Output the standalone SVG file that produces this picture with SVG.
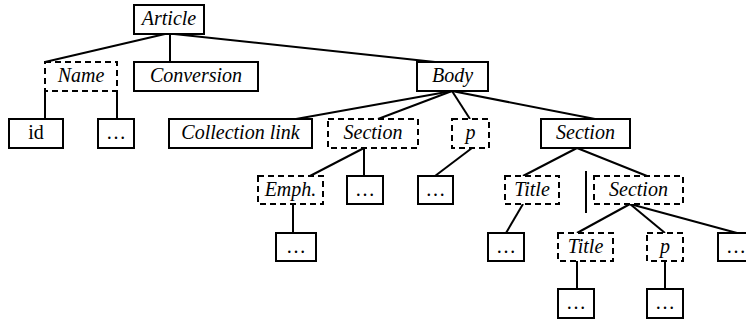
<svg xmlns="http://www.w3.org/2000/svg" width="746" height="321" viewBox="0 0 746 321">
<style>
.b{fill:#fff;stroke:#000;stroke-width:2}
.d{fill:#fff;stroke:#000;stroke-width:2;stroke-dasharray:6 4}
text{font-family:'Liberation Serif','Times New Roman',serif;font-size:20px;text-anchor:middle;fill:#000}
.t{font-style:italic}
#connectors line{stroke:#000;stroke-width:2}
</style>
<rect width="746" height="321" fill="#fff"/>
<g id="connectors">
<line x1="165" y1="34" x2="45" y2="62"/>
<line x1="170" y1="34" x2="170" y2="62"/>
<line x1="174" y1="34" x2="435" y2="62"/>
<line x1="45" y1="91" x2="45" y2="119"/>
<line x1="117" y1="91" x2="117" y2="119"/>
<line x1="452" y1="91" x2="296" y2="119"/>
<line x1="452" y1="91" x2="378" y2="119"/>
<line x1="452" y1="91" x2="470" y2="119"/>
<line x1="452" y1="91" x2="595" y2="119"/>
<line x1="364" y1="148" x2="310" y2="176"/>
<line x1="364" y1="148" x2="364" y2="176"/>
<line x1="472" y1="148" x2="435" y2="176"/>
<line x1="293" y1="204" x2="293" y2="233"/>
<line x1="577" y1="148" x2="523" y2="176"/>
<line x1="577" y1="148" x2="647" y2="176"/>
<line x1="586" y1="171" x2="586" y2="213"/>
<line x1="523" y1="204" x2="506" y2="233"/>
<line x1="630" y1="204" x2="577" y2="233"/>
<line x1="630" y1="204" x2="665" y2="233"/>
<line x1="630" y1="204" x2="737" y2="233"/>
<line x1="577" y1="261" x2="577" y2="289"/>
<line x1="665" y1="261" x2="665" y2="289"/>
</g>
<g id="article"><rect class="b" x="134" y="5" width="70" height="29"/><text class="t" x="169" y="25">Article</text></g>
<g id="name"><rect class="d" x="45" y="62" width="72" height="29"/><text class="t" x="81" y="82">Name</text></g>
<g id="conversion"><rect class="b" x="134" y="62" width="124" height="29"/><text class="t" x="196" y="82">Conversion</text></g>
<g id="body"><rect class="b" x="417" y="62" width="71" height="29"/><text class="t" x="452.5" y="82">Body</text></g>
<g id="id"><rect class="b" x="9" y="119" width="54" height="29"/><text x="36" y="139">id</text></g>
<g id="name-more"><rect class="b" x="98" y="119" width="36" height="29"/><text x="116" y="139">…</text></g>
<g id="collection-link"><rect class="b" x="169" y="119" width="143" height="29"/><text class="t" x="240.5" y="139">Collection link</text></g>
<g id="section1"><rect class="d" x="328" y="119" width="90" height="29"/><text class="t" x="373" y="139">Section</text></g>
<g id="p1"><rect class="d" x="452" y="119" width="37" height="29"/><text class="t" x="470.5" y="139">p</text></g>
<g id="section2"><rect class="b" x="541" y="119" width="89" height="29"/><text class="t" x="585.5" y="139">Section</text></g>
<g id="emph"><rect class="d" x="258" y="176" width="65" height="28"/><text class="t" x="290.5" y="196">Emph.</text></g>
<g id="section1-more"><rect class="b" x="347" y="176" width="36" height="28"/><text x="365" y="196">…</text></g>
<g id="p1-more"><rect class="b" x="418" y="176" width="35" height="28"/><text x="435.5" y="196">…</text></g>
<g id="title1"><rect class="d" x="505" y="176" width="54" height="28"/><text class="t" x="532" y="196">Title</text></g>
<g id="section3"><rect class="d" x="594" y="176" width="89" height="28"/><text class="t" x="638.5" y="196">Section</text></g>
<g id="emph-more"><rect class="b" x="276" y="233" width="40" height="28"/><text x="296" y="253">…</text></g>
<g id="title1-more"><rect class="b" x="488" y="233" width="36" height="28"/><text x="506" y="253">…</text></g>
<g id="title2"><rect class="d" x="558" y="233" width="55" height="28"/><text class="t" x="585.5" y="253">Title</text></g>
<g id="p2"><rect class="d" x="647" y="233" width="36" height="28"/><text class="t" x="665" y="253">p</text></g>
<g id="section3-more"><rect class="b" x="718" y="233" width="36" height="28"/><text x="736" y="253">…</text></g>
<g id="title2-more"><rect class="b" x="558" y="289" width="36" height="29"/><text x="576" y="309">…</text></g>
<g id="p2-more"><rect class="b" x="647" y="289" width="36" height="29"/><text x="665" y="309">…</text></g>
</svg>
